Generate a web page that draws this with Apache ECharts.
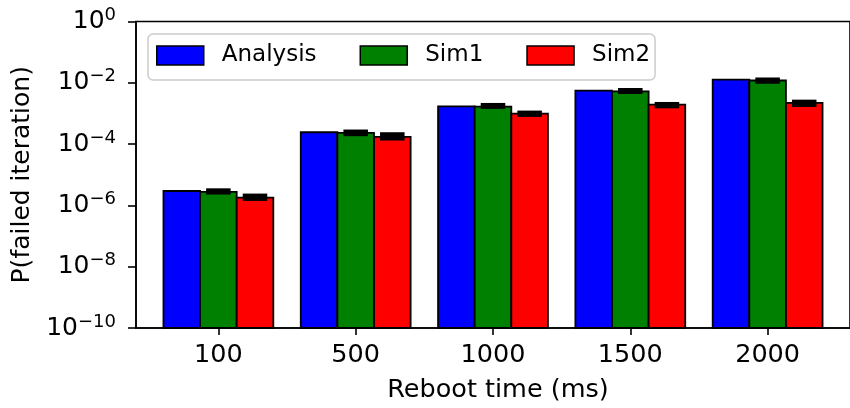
<!DOCTYPE html>
<html><head><meta charset="utf-8">
<script src="https://cdn.jsdelivr.net/npm/echarts@6/dist/echarts.min.js"></script>
<style>html,body{margin:0;padding:0;background:#fff}#c{width:850px;height:408px}</style>
</head><body><div id="c"></div>
<script>
// Reboot time categories and failure probabilities per method
const categories = ['100', '500', '1000', '1500', '2000'];
const analysis = [2.95e-6, 2.44e-4, 1.71e-3, 5.52e-3, 1.26e-2];
const sim1 = [2.78e-6, 2.33e-4, 1.67e-3, 5.24e-3, 1.19e-2];
const sim2 = [1.80e-6, 1.73e-4, 9.9e-4, 1.94e-3, 2.2e-3];
// error bar extents for the simulations
const sim1Lo = [2.26e-6, 1.81e-4, 1.41e-3, 4.31e-3, 9.32e-3];
const sim1Hi = [3.61e-6, 2.99e-4, 2.20e-3, 6.76e-3, 1.49e-2];
const sim2Lo = [1.40e-6, 1.31e-4, 7.72e-4, 1.47e-3, 1.63e-3];
const sim2Hi = [2.43e-6, 2.44e-4, 1.24e-3, 2.37e-3, 2.82e-3];

const FONT = 'DejaVu Sans';
const BAR = 0.8 / 3;
const Y_MIN = 1e-10, Y_MAX = 1;

function barSeries(name, color, values, offset) {
  return {
    name: name, type: 'custom',
    itemStyle: { color: color, borderColor: '#000', borderWidth: 1.5 },
    data: values.map((v, i) => [i, v]),
    encode: { x: 0, y: 1 },
    renderItem: function (params, api) {
      const i = api.value(0), v = api.value(1);
      const p0 = api.coord([i + offset - BAR / 2, v]);
      const p1 = api.coord([i + offset + BAR / 2, Y_MIN]);
      return {
        type: 'rect',
        shape: { x: p0[0], y: p0[1], width: p1[0] - p0[0], height: p1[1] - p0[1] },
        style: { fill: color, stroke: '#000', lineWidth: 1.8 }
      };
    }
  };
}

function errSeries(lo, hi, offset) {
  return {
    type: 'custom', silent: true, z: 3,
    data: lo.map((l, i) => [i, l, hi[i]]),
    encode: { x: 0, y: [1, 2] },
    renderItem: function (params, api) {
      const i = api.value(0);
      const p0 = api.coord([i + offset - BAR * 0.335, api.value(2)]);
      const p1 = api.coord([i + offset + BAR * 0.335, api.value(1)]);
      return {
        type: 'rect',
        shape: { x: p0[0], y: p0[1], width: p1[0] - p0[0], height: p1[1] - p0[1] },
        style: { fill: '#000' }
      };
    }
  };
}

const chart = echarts.init(document.getElementById('c'), null, { renderer: 'canvas' });
chart.setOption({
  animation: false,
  textStyle: { fontFamily: FONT },
  grid: {
    left: 136, top: 21.5, width: 733.6, height: 307.8,
    show: true, borderColor: '#000', borderWidth: 1.6, backgroundColor: 'transparent'
  },
  legend: {
    data: ['Analysis', 'Sim1', 'Sim2'],
    left: 148, top: 34,
    icon: 'rect', itemWidth: 47, itemHeight: 19, itemGap: 43,
    itemStyle: { borderColor: '#000', borderWidth: 1.5 },
    textStyle: { fontFamily: FONT, fontSize: 23, color: '#000', padding: [0, 0, 0, 13] },
    backgroundColor: 'rgba(255,255,255,0.8)',
    borderColor: '#cccccc', borderWidth: 1.5, borderRadius: 5,
    padding: [10, 5, 13, 8]
  },
  xAxis: {
    type: 'value', min: -0.6, max: 4.6,
    name: 'Reboot time (ms)', nameLocation: 'middle', nameGap: 49,
    nameTextStyle: { fontFamily: FONT, fontSize: 25.5, color: '#000', padding: [0, 0, 0, 10] },
    axisLine: { show: true, onZero: false, lineStyle: { color: '#000', width: 1.6 } },
    axisTick: { show: true, length: 7, customValues: [0, 1, 2, 3, 4], lineStyle: { color: '#000', width: 1.6 } },
    axisLabel: {
      customValues: [0, 1, 2, 3, 4], margin: 14,
      fontFamily: FONT, fontSize: 25.5, color: '#000',
      formatter: v => categories[Math.round(v)]
    },
    splitLine: { show: false }
  },
  yAxis: {
    type: 'log', logBase: 10, min: Y_MIN, max: Y_MAX, interval: 2,
    name: 'P(failed iteration)', nameLocation: 'middle', nameGap: 97, nameRotate: 90,
    nameTextStyle: { fontFamily: FONT, fontSize: 25, color: '#000' },
    axisLine: { show: true, onZero: false, lineStyle: { color: '#000', width: 1.6 } },
    axisTick: { show: true, length: 8, lineStyle: { color: '#000', width: 1.6 } },
    axisLabel: {
      margin: 20, color: '#000',
      formatter: function (v) {
        const e = Math.round(Math.log10(v));
        return '{b|10}{s|' + (e < 0 ? '\u2212' + (-e) : String(e)) + '}';
      },
      rich: {
        b: { fontFamily: FONT, fontSize: 25, color: '#000' },
        s: { fontFamily: FONT, fontSize: 18, color: '#000', padding: [0, 0, 12, 0] }
      }
    },
    splitLine: { show: false },
    minorTick: { show: false }
  },
  series: [
    barSeries('Analysis', '#0000ff', analysis, -BAR),
    barSeries('Sim1', '#008000', sim1, 0),
    barSeries('Sim2', '#ff0000', sim2, BAR),
    errSeries(sim1Lo, sim1Hi, 0),
    errSeries(sim2Lo, sim2Hi, BAR)
  ]
});
</script>
</body></html>
